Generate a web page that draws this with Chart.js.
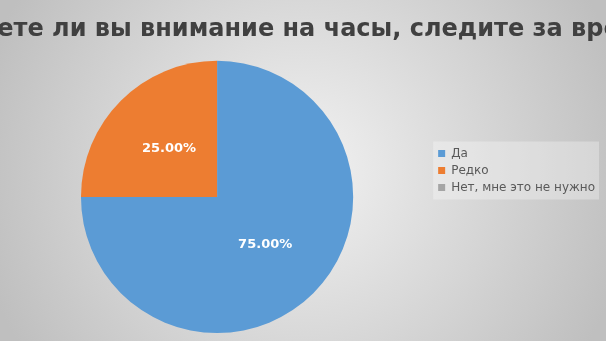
<!DOCTYPE html>
<html>
<head>
<meta charset="utf-8">
<script src="https://cdn.jsdelivr.net/npm/chart.js@4.4.1/dist/chart.umd.min.js"></script>
<style>
  html, body { margin: 0; padding: 0; overflow: hidden; }
  #wrap { width: 606px; height: 341px; position: relative; }
</style>
</head>
<body>
<div id="wrap"><canvas id="chart"></canvas></div>
<script>
const chartTitle = 'Обращаете ли вы внимание на часы, следите за временем?';
const categories = ['Да', 'Редко', 'Нет, мне это не нужно'];
const shares = [75, 25, 0];
const sliceColors = ['#5b9bd5', '#ed7d31', '#a5a5a5'];

// background gradient, legend panel and the (overflowing) title
const decorPlugin = {
    id: 'decor',
    beforeDraw(chart) {
        const ctx = chart.ctx;
        const w = chart.width, h = chart.height;
        ctx.save();
        const g = ctx.createRadialGradient(w / 2, h / 2, 0, w / 2, h / 2, w * 0.55);
        g.addColorStop(0, '#f2f2f2');
        g.addColorStop(1, '#bfbfbf');
        ctx.fillStyle = g;
        ctx.fillRect(0, 0, w, h);

        const lg = chart.legend;
        const boxes = lg.legendHitBoxes;
        if (boxes && boxes.length) {
            const pad = 5;
            const first = boxes[0], last = boxes[boxes.length - 1];
            const width = Math.max(...boxes.map(b => b.width));
            ctx.fillStyle = 'rgba(255,255,255,0.3)';
            ctx.fillRect(first.left - pad, first.top - pad - 1, width + pad + 4, last.top + last.height - first.top + pad * 2 + 2);
        }
        ctx.restore();
    },
    afterDraw(chart) {
        const ctx = chart.ctx;
        ctx.save();
        ctx.font = 'bold 24px "DejaVu Sans"';
        ctx.fillStyle = '#404040';
        ctx.textAlign = 'center';
        ctx.textBaseline = 'middle';
        ctx.fillText(chartTitle, chart.width / 2, 30);

        // percentage labels inside the slices
        ctx.font = 'bold 13px "DejaVu Sans"';
        ctx.fillStyle = '#ffffff';
        const meta = chart.getDatasetMeta(0);
        meta.data.forEach((arc, i) => {
            if (!shares[i]) return;
            const p = arc.tooltipPosition();
            ctx.fillText(shares[i].toFixed(2) + '%', p.x, p.y);
        });
        ctx.restore();
    }
};

const ctx = document.getElementById('chart').getContext('2d');
new Chart(ctx, {
    type: 'pie',
    data: {
        labels: categories,
        datasets: [{
            data: shares,
            backgroundColor: sliceColors,
            borderWidth: 0
        }]
    },
    options: {
        responsive: true,
        maintainAspectRatio: false,
        animation: false,
        layout: {
            padding: { left: 1, right: 1, top: 8, bottom: 8 }
        },
        plugins: {
            title: {
                display: true,
                text: chartTitle,
                color: 'rgba(0,0,0,0)', // drawn by decor plugin so it can overflow
                font: { family: 'DejaVu Sans', size: 24, weight: 'bold' },
                padding: { top: 5, bottom: 19 }
            },
            legend: {
                position: 'right',
                labels: {
                    boxWidth: 7,
                    boxHeight: 7,
                    padding: 5,
                    color: '#595959',
                    font: { family: 'DejaVu Sans', size: 12 }
                }
            },
            tooltip: { enabled: false }
        }
    },
    plugins: [decorPlugin]
});
</script>
</body>
</html>
